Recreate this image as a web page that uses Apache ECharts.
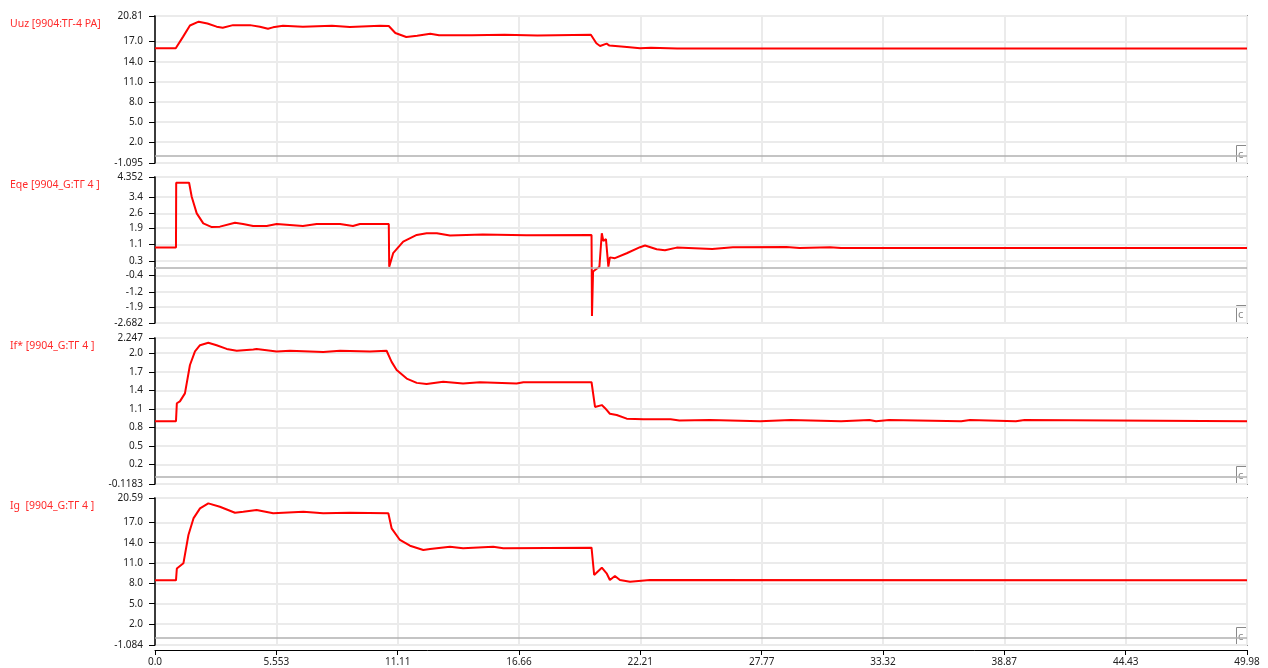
<!DOCTYPE html>
<html>
<head>
<meta charset="utf-8">
<script src="https://cdn.jsdelivr.net/npm/echarts@6.0.0/dist/echarts.min.js"></script>
<style>
  html, body { margin: 0; padding: 0; background: #fff; }
  #chart { width: 1268px; height: 668px; }
</style>
</head>
<body>
<div id="chart"></div>
<script>
// time axis (s)
var xTicks = [0, 5.553, 11.11, 16.66, 22.21, 27.77, 33.32, 38.87, 44.43, 49.98];

// Uuz [9904:ТГ-4 РА]
var uuzTicks = [-1.095, 2, 5, 8, 11, 14, 17, 20.81];
var uuzT = [0, 0.95, 1.28, 1.6, 2.0, 2.4, 2.82, 3.1, 3.57, 4.35, 4.8, 5.17, 5.4, 5.86, 6.77, 8.1, 8.92, 10.3, 10.7, 11.0, 11.5, 12.0, 12.6, 13.0, 14.5, 16.0, 17.5, 19.95, 20.2, 20.37, 20.67, 20.8, 21.6, 22.2, 22.7, 23.9, 49.98];
var uuzV = [16.0, 16.0, 17.7, 19.4, 19.96, 19.7, 19.22, 19.07, 19.45, 19.45, 19.22, 18.92, 19.12, 19.37, 19.22, 19.37, 19.17, 19.37, 19.32, 18.28, 17.68, 17.87, 18.17, 17.93, 17.93, 18.0, 17.9, 18.02, 16.74, 16.34, 16.69, 16.4, 16.19, 16.0, 16.09, 15.95, 15.95];

// Eqe [9904_G:ТГ 4 ]
var eqeTicks = [-2.682, -1.9, -1.2, -0.4, 0.3, 1.1, 1.9, 2.6, 3.4, 4.352];
var eqeT = [0, 0.96, 0.97, 1.56, 1.68, 1.91, 2.21, 2.6, 2.97, 3.66, 4.03, 4.49, 5.11, 5.57, 6.77, 7.4, 8.47, 9.06, 9.38, 10.7, 10.72, 10.9, 11.36, 11.98, 12.43, 12.9, 13.5, 15.0, 17.0, 19.98, 20.0, 20.05, 20.14, 20.34, 20.45, 20.52, 20.64, 20.75, 20.82, 21.05, 21.59, 22.2, 22.43, 22.96, 23.34, 23.88, 25.5, 26.45, 28.9, 29.5, 30.9, 31.4, 49.98];
var eqeV = [0.95, 0.95, 4.08, 4.08, 3.40, 2.60, 2.12, 1.94, 1.96, 2.15, 2.09, 1.99, 1.99, 2.09, 1.99, 2.09, 2.09, 1.99, 2.09, 2.09, 0.03, 0.68, 1.24, 1.56, 1.64, 1.64, 1.53, 1.58, 1.55, 1.56, -2.34, -0.2, -0.15, 0.03, 1.64, 1.27, 1.36, 0.03, 0.48, 0.44, 0.68, 0.97, 1.05, 0.87, 0.82, 0.95, 0.88, 0.97, 0.98, 0.93, 0.97, 0.93, 0.93];

// If* [9904_G:ТГ 4 ]
var ifTicks = [-0.1183, 0.2, 0.5, 0.8, 1.1, 1.4, 1.7, 2.0, 2.247];
var ifT = [0, 0.96, 1.0, 1.14, 1.37, 1.6, 1.83, 2.06, 2.44, 2.82, 3.28, 3.74, 4.5, 4.65, 5.57, 6.18, 7.7, 8.47, 9.84, 10.6, 10.83, 11.06, 11.52, 11.98, 12.43, 13.19, 14.1, 14.87, 16.55, 16.86, 19.98, 20.14, 20.45, 20.6, 20.82, 21.13, 21.59, 22.35,
           23.6, 23.65, 24.0, 24.05, 25.4, 25.45, 27.7, 27.75, 29.1, 29.15, 31.4, 31.45, 32.7, 32.75, 33.0, 33.05, 33.6, 33.65, 36.9, 36.95, 37.3, 37.35, 39.4, 39.45, 39.8, 39.85, 49.98];
var ifV = [0.90, 0.90, 1.19, 1.22, 1.35, 1.81, 2.03, 2.13, 2.17, 2.13, 2.07, 2.04, 2.06, 2.07, 2.03, 2.04, 2.02, 2.04, 2.03, 2.04, 1.86, 1.73, 1.59, 1.52, 1.50, 1.54, 1.51, 1.53, 1.51, 1.53, 1.53, 1.13, 1.16, 1.11, 1.02, 1.0, 0.94, 0.93,
           0.93, 0.91, 0.91, 0.92, 0.92, 0.90, 0.90, 0.92, 0.92, 0.90, 0.90, 0.92, 0.92, 0.90, 0.90, 0.92, 0.92, 0.90, 0.90, 0.92, 0.92, 0.90, 0.90, 0.92, 0.92, 0.90, 0.90];

// Ig [9904_G:ТГ 4 ]
var igTicks = [-1.084, 2, 5, 8, 11, 14, 17, 20.59];
var igT = [0, 0.96, 1.0, 1.07, 1.3, 1.53, 1.76, 2.06, 2.44, 2.97, 3.66, 4.04, 4.65, 5.41, 6.79, 7.7, 8.92, 10.68, 10.83, 11.21, 11.67, 12.28, 12.59, 13.5, 14.1, 15.48, 15.94, 19.98, 20.1, 20.45, 20.67, 20.82, 21.05, 21.28, 21.74, 22.65, 49.98];
var igV = [8.45, 8.45, 10.2, 10.46, 10.96, 15.13, 17.58, 19.06, 19.8, 19.3, 18.42, 18.57, 18.82, 18.33, 18.57, 18.33, 18.42, 18.33, 16.12, 14.4, 13.56, 12.92, 13.07, 13.41, 13.17, 13.41, 13.17, 13.26, 9.24, 10.32, 9.49, 8.50, 9.09, 8.5, 8.25, 8.5, 8.45];

var names = ['Uuz [9904:ТГ-4 РА]', 'Eqe [9904_G:ТГ 4 ]', 'If* [9904_G:ТГ 4 ]', 'Ig  [9904_G:ТГ 4 ]'];
var times = [uuzT, eqeT, ifT, igT];
var values = [uuzV, eqeV, ifV, igV];
var yTicks = [uuzTicks, eqeTicks, ifTicks, igTicks];

var tops = [16, 177, 338, 498];
var heights = [147, 146, 146, 147];
var font = 'Noto Sans';

function fmtY(v) {
    return Math.abs(v * 10 - Math.round(v * 10)) < 1e-6 ? v.toFixed(1) : String(v);
}
function fmtX(v) {
    return v === 0 ? '0.0' : String(v);
}

var grids = [], xAxes = [], yAxes = [], series = [], titles = [], graphics = [];

for (var i = 0; i < 4; i++) {
    var last = i === 3;
    grids.push({
        left: 155, right: 21, top: tops[i], height: heights[i],
        show: true, borderColor: '#9a9a9a', borderWidth: 2
    });
    xAxes.push({
        type: 'value', gridIndex: i, min: 0, max: 49.98,
        offset: last ? 5 : 0,
        axisLine: { show: last, onZero: false, lineStyle: { color: '#000', width: 1 } },
        axisTick: { show: last, length: 5, customValues: xTicks, lineStyle: { color: '#000' } },
        axisLabel: { show: last, customValues: xTicks, formatter: fmtX, color: '#222', fontSize: 10, fontFamily: font, margin: 7 },
        splitLine: { show: true, lineStyle: { color: '#ebebeb', width: 2 } }
    });
    yAxes.push({
        type: 'value', gridIndex: i,
        min: yTicks[i][0], max: yTicks[i][yTicks[i].length - 1],
        offset: 3,
        axisLine: { show: true, lineStyle: { color: '#000', width: 1.5 } },
        axisTick: { show: true, length: 6, customValues: yTicks[i], lineStyle: { color: '#000' } },
        axisLabel: { customValues: yTicks[i], formatter: fmtY, color: '#222', fontSize: 10, fontFamily: font, margin: 9 },
        splitLine: { show: true, lineStyle: { color: '#ebebeb', width: 2 } }
    });
    var pts = [];
    for (var k = 0; k < times[i].length; k++) {
        pts.push([times[i][k], values[i][k]]);
    }
    series.push({
        type: 'line', name: names[i], xAxisIndex: i, yAxisIndex: i,
        data: pts, showSymbol: false, animation: false,
        lineStyle: { color: '#ff0000', width: 2 },
        markLine: {
            silent: true, symbol: 'none', animation: false,
            label: { show: false },
            lineStyle: { color: '#b0b0b0', type: 'solid', width: 1.5 },
            data: [{ yAxis: 0 }]
        }
    });
    titles.push({
        text: names[i], left: 10, top: tops[i] + 3, padding: 0,
        textStyle: { color: '#ff2a2a', fontSize: 10.5, fontWeight: 'normal', fontFamily: font }
    });
    // small "c" box at the bottom right corner of each panel
    var b = tops[i] + heights[i];
    graphics.push({
        type: 'rect', left: 1236, top: b - 18,
        shape: { width: 11, height: 18 },
        style: { fill: '#fff', stroke: '#8a8a8a', lineWidth: 1 }
    });
    graphics.push({
        type: 'text', left: 1238, top: b - 14,
        style: { text: 'c', fill: '#8a8a8a', fontSize: 11, fontFamily: font }
    });
}

var myChart = echarts.init(document.getElementById('chart'));
myChart.setOption({
    backgroundColor: '#fff',
    animation: false,
    title: titles,
    grid: grids,
    xAxis: xAxes,
    yAxis: yAxes,
    series: series,
    graphic: graphics
});
</script>
</body>
</html>
